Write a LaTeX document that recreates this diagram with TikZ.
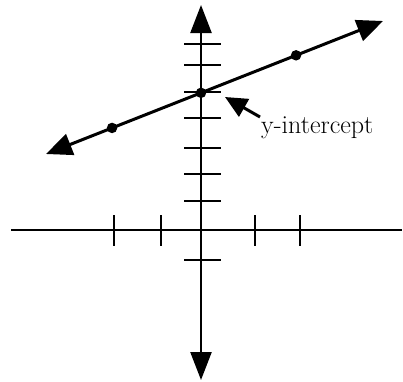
\documentclass[tikz,border=0pt]{standalone}
\usetikzlibrary{arrows.meta}
\begin{document}
\begin{tikzpicture}[x=1pt,y=-1pt,
  axis/.style={line width=2.4pt},
  tick/.style={line width=2.4pt},
  graphline/.style={line width=3pt},
  bigtip/.style={{Triangle[length=28pt,width=21pt]}-{Triangle[length=28pt,width=21pt]}},
  linetip/.style={{Triangle[length=26pt,width=22pt]}-{Triangle[length=26pt,width=22pt]}},
  pointer/.style={line width=3pt,-{Triangle[length=22pt,width=20pt]}},
  dot/.style={circle,fill,inner sep=0pt,minimum size=10.5pt}]
\useasboundingbox (0,0) rectangle (403,381);
% axes
\coordinate (xl) at (11,230);
\coordinate (xr) at (402,230);
\coordinate (yt) at (201,5);
\coordinate (yb) at (201,380);
\draw[axis] (xl) -- (xr);
\draw[axis,bigtip] (yb) -- (yt);
\foreach \x in {114,161,255,300} \draw[tick] (\x,215) -- (\x,246);
\foreach \y in {44,65,92,118,148,174,201,260} \draw[tick] (184,\y) -- (221,\y);
% the line
\coordinate (lt) at (46,154);
\coordinate (rt) at (383,21);
\draw[graphline,linetip] (lt) -- (rt);
\path (lt) -- (rt) node[dot,pos=0.196] (p1) {}
                   node[dot,pos=0.46] (p0) {}
                   node[dot,pos=0.742] (p2) {};
% label
\node[anchor=base west,inner sep=0pt,font=\fontsize{26}{31}\selectfont] (lab) at (261,133) {y-intercept};
\coordinate (tail) at (260,117);
\coordinate (tip) at (225,97);
\draw[pointer] (tail) -- (tip);
\end{tikzpicture}
\end{document}
